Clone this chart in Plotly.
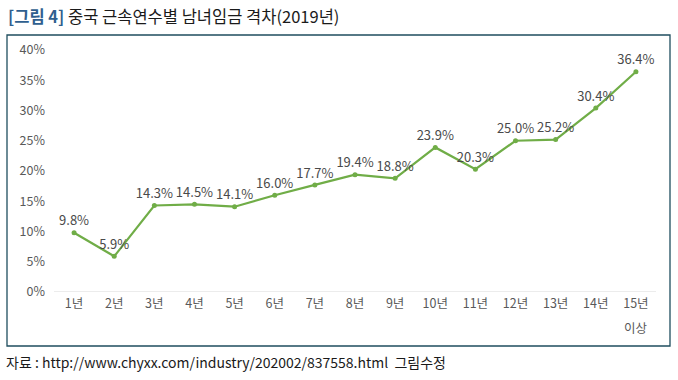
import plotly.graph_objects as go

categories = ["1년", "2년", "3년", "4년", "5년", "6년", "7년", "8년", "9년", "10년",
              "11년", "12년", "13년", "14년", "15년"]
last_sub = "이상"
values = [9.8, 5.9, 14.3, 14.5, 14.1, 16.0, 17.7, 19.4, 18.8, 23.9, 20.3, 25.0, 25.2, 30.4, 36.4]
tick_vals = [0, 5, 10, 15, 20, 25, 30, 35, 40]
tick_text = [f"{v}%" for v in tick_vals]

W, H = 678, 380
L, R, T, B = 54, 22, 50, 88
pw, ph = W - L - R, H - T - B

def px(x):
    return (x - L) / pw

def py(y):
    return (H - B - y) / ph

fig = go.Figure()
fig.add_trace(go.Scatter(
    x=list(range(len(categories))), y=values,
    mode="lines+markers+text",
    line=dict(color="#70AD47", width=2.2),
    marker=dict(color="#70AD47", size=5),
    text=[f"{v:.1f}%" for v in values],
    textposition="top center",
    textfont=dict(family="Noto Sans CJK KR, Arial", size=13, color="#4a4a4a"),
    cliponaxis=False,
    hoverinfo="skip",
))

fig.update_layout(
    width=W, height=H,
    margin=dict(l=L, r=R, t=T, b=B, autoexpand=False),
    paper_bgcolor="white", plot_bgcolor="white",
    showlegend=False,
    font=dict(family="Noto Sans CJK KR, Arial", color="#595959", size=12),
    xaxis=dict(
        range=[-0.5, len(categories) - 0.5],
        tickmode="array", tickvals=list(range(len(categories))), ticktext=categories,
        showgrid=False, zeroline=False, showline=False, ticks="",
        tickfont=dict(size=12.5, color="#595959"),
        ticklabelstandoff=2,
        automargin=False,
        fixedrange=True,
    ),
    yaxis=dict(
        range=[0, 40],
        tickmode="array", tickvals=tick_vals, ticktext=tick_text,
        showgrid=False, zeroline=False, showline=False, ticks="",
        tickfont=dict(size=12.5, color="#595959"),
        ticklabelstandoff=8,
        automargin=False,
        fixedrange=True,
    ),
    shapes=[
        dict(type="rect", xref="paper", yref="paper",
             x0=px(7), x1=px(670), y0=py(346), y1=py(35),
             line=dict(color="#1F4E5F", width=1.3), fillcolor="rgba(0,0,0,0)", layer="below"),
        dict(type="line", xref="paper", yref="y",
             x0=0, x1=1, y0=0, y1=0,
             line=dict(color="#D9D9D9", width=1)),
    ],
    annotations=[
        dict(xref="x", yref="paper", x=len(categories) - 1, y=py(327),
             xanchor="center", yanchor="middle", showarrow=False,
             text=last_sub, font=dict(family="Noto Sans CJK KR", size=12.5, color="#595959")),
        dict(xref="paper", yref="paper", x=px(6), y=py(16), xanchor="left", yanchor="middle",
             showarrow=False,
             text="<b><span style='color:#2F5F8F'>[그림 4]</span></b> 중국 근속연수별 남녀임금 격차(2019년)",
             font=dict(family="Noto Sans CJK KR", size=16.5, color="#1a1a1a")),
        dict(xref="paper", yref="paper", x=px(4), y=py(362), xanchor="left", yanchor="middle",
             showarrow=False,
             text="자료 : http://www.chyxx.com/industry/202002/837558.html  그림수정",
             font=dict(family="Noto Sans CJK KR", size=14, color="#1a1a1a")),
    ],
)

fig.write_html("out.html", config={"displayModeBar": False},
               post_script="document.body.style.margin='0px';document.body.style.overflow='hidden';")
